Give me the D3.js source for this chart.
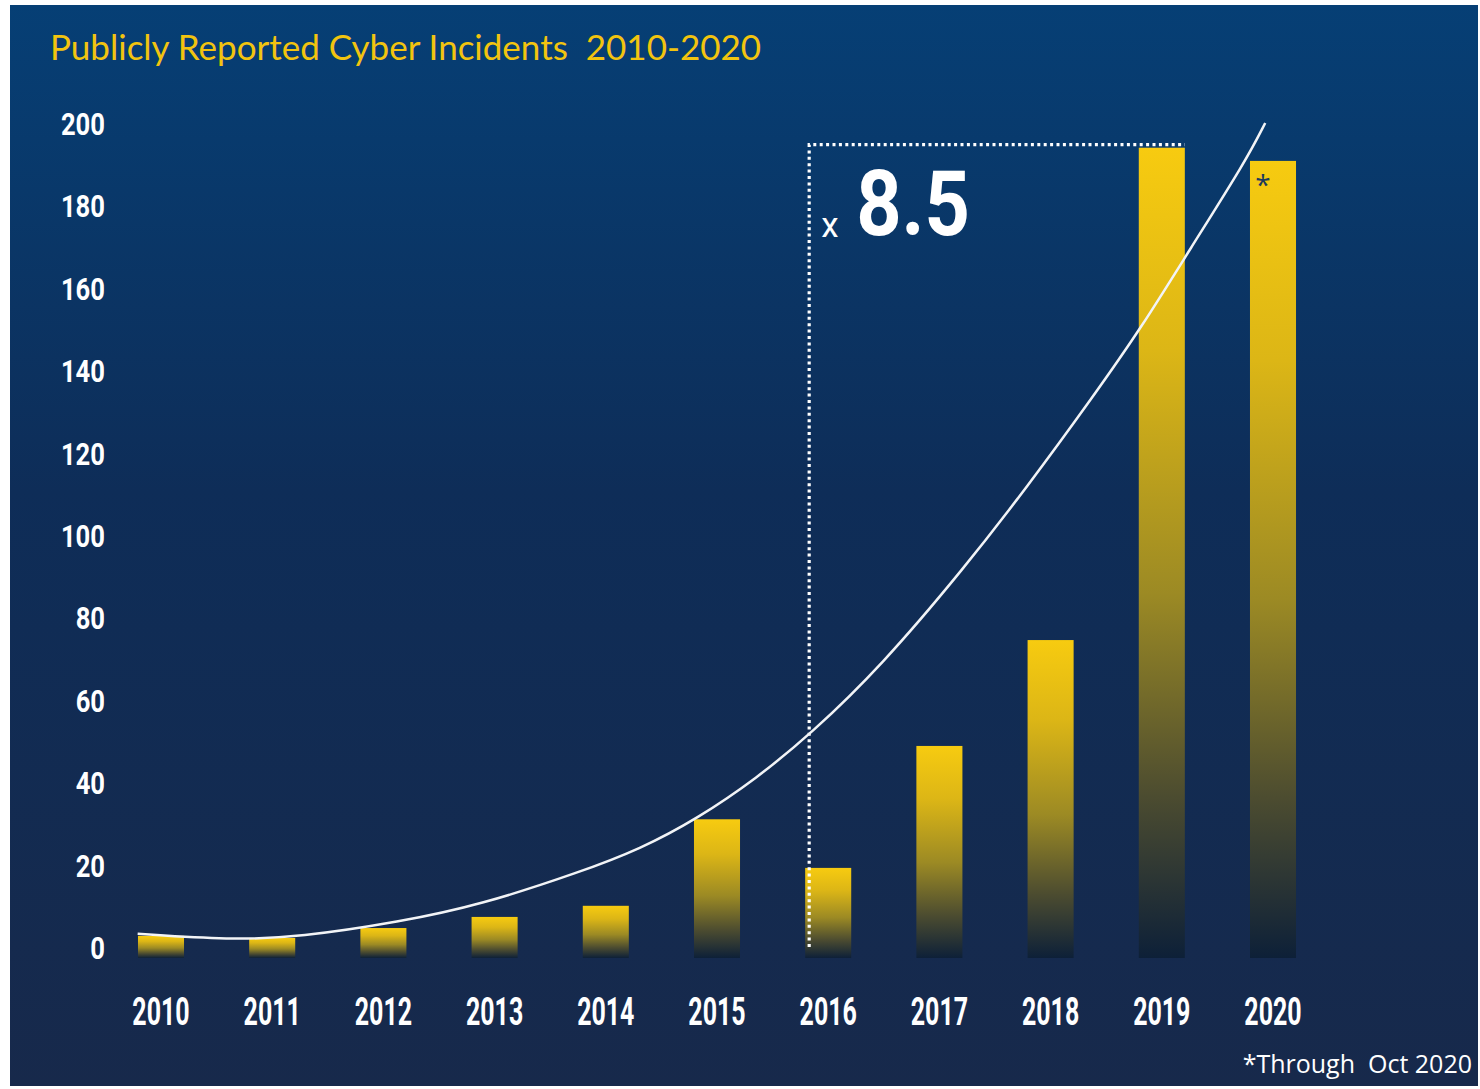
<!DOCTYPE html>
<meta charset="utf-8">
<style>
body { margin: 0; background: #fff; }
.num { font-family: "Roboto", "DejaVu Sans", sans-serif; font-weight: bold; fill: #fff; }
.title { font-family: "Lato", "Open Sans", sans-serif; fill: #f2c40f; white-space: pre; }
.note { font-family: "Open Sans", "Lato", sans-serif; fill: #fff; white-space: pre; }
</style>
<svg width="1480" height="1089"></svg>
<script src="https://d3js.org/d3.v7.min.js"></script>
<script>

var years = [2010, 2011, 2012, 2013, 2014, 2015, 2016, 2017, 2018, 2019, 2020];
var incidents = [2.7, 2.2, 4.6, 7.3, 10.0, 31.0, 19.2, 48.8, 74.5, 194, 190.8];
var yTicks = [0, 20, 40, 60, 80, 100, 120, 140, 160, 180, 200];

// trend line (fractional year, value)
var trendX = [2009.79, 2010.62, 2011.25, 2012.15, 2012.87, 2013.77, 2014.31, 2014.82, 2015.36, 2015.85,
              2016.47, 2017.23, 2017.79, 2018.38, 2018.82, 2019.25, 2019.76, 2019.93];
var trendY = [3.2, 1.7, 2.4, 6.1, 10.2, 18.2, 23.8, 31.1, 41.0, 51.9,
              68.0, 92.2, 111.7, 133.5, 150.5, 169.2, 191.0, 200];

var titleText = "Publicly Reported Cyber Incidents  2010-2020";
var footnote = "*Through  Oct 2020";
var growth = "8.5";

var svg = d3.select("svg"),
    width = +svg.attr("width"),
    height = +svg.attr("height");

var defs = svg.append("defs");

var bg = defs.append("linearGradient")
    .attr("id", "bg").attr("x1", 0).attr("y1", 0).attr("x2", 0).attr("y2", 1);
bg.append("stop").attr("offset", 0).attr("stop-color", "#063f75");
bg.append("stop").attr("offset", 0.45).attr("stop-color", "#0e2d58");
bg.append("stop").attr("offset", 1).attr("stop-color", "#17294b");

var barGrad = defs.append("linearGradient")
    .attr("id", "bar").attr("x1", 0).attr("y1", 0).attr("x2", 0).attr("y2", 1);
barGrad.append("stop").attr("offset", 0).attr("stop-color", "#f7cb10");
barGrad.append("stop").attr("offset", 0.25).attr("stop-color", "#dcb616");
barGrad.append("stop").attr("offset", 0.55).attr("stop-color", "#9c8a24");
barGrad.append("stop").attr("offset", 0.8).attr("stop-color", "#4c4c30");
barGrad.append("stop").attr("offset", 1).attr("stop-color", "#0d2038");

svg.append("rect")
    .attr("x", 10).attr("y", 5)
    .attr("width", width - 12).attr("height", height - 8)
    .attr("fill", "url(#bg)");

var x = d3.scaleBand()
    .domain(years)
    .range([105.4, 1328.6])
    .paddingInner(0.586)
    .paddingOuter(0.293);

var y = d3.scaleLinear()
    .domain([0, 200])
    .range([947, 123]);

var xt = d3.scaleLinear()
    .domain([2010, 2020])
    .range([x(2010) + x.bandwidth() / 2, x(2020) + x.bandwidth() / 2]);

var base = y(0) + 11;

// condensed text helper: a scaled group holding one text
function narrowText(parent, px, py, sx, size, anchor, str) {
  var g = parent.append("g")
      .attr("transform", "translate(" + px + "," + py + ") scale(" + sx + ",1)");
  return g.append("text")
      .attr("class", "num")
      .attr("text-anchor", anchor)
      .style("font-size", size + "px")
      .text(str);
}

// title
svg.append("text")
    .attr("class", "title")
    .attr("x", 50).attr("y", 60)
    .style("font-size", "35px")
    .text(titleText);

// y axis labels
var yg = svg.append("g");
yTicks.forEach(function(d) {
  narrowText(yg, 105, y(d) + 12, 0.8, 32, "end", d);
});

// bars
svg.append("g")
  .selectAll("rect")
  .data(years)
  .enter().append("rect")
    .attr("x", function(d) { return x(d); })
    .attr("y", function(d, i) { return y(incidents[i]); })
    .attr("width", x.bandwidth())
    .attr("height", function(d, i) { return base - y(incidents[i]); })
    .attr("fill", "url(#bar)");

// x axis labels
var xg = svg.append("g");
years.forEach(function(d) {
  narrowText(xg, x(d) + x.bandwidth() / 2, 1025, 0.64, 39, "middle", d);
});

// asterisk on 2020
svg.append("text")
    .attr("x", x(2020) + x.bandwidth() / 2 - 10)
    .attr("y", y(incidents[10]) + 34)
    .attr("text-anchor", "middle")
    .attr("fill", "#1d3a5c")
    .style("font-family", "Open Sans, sans-serif")
    .style("font-size", "28px")
    .text("*");

// dotted bracket from 2016 to 2019
var i19 = years.indexOf(2019);
var bx = x(2016) + 4, by = y(incidents[i19]) - 3;
svg.append("path")
    .attr("d", "M" + bx + "," + y(0) + "V" + by + "H" + (x(2019) + x.bandwidth()))
    .attr("fill", "none")
    .attr("stroke", "#fff")
    .attr("stroke-width", 3.2)
    .attr("stroke-dasharray", "3 3.4");

svg.append("text")
    .attr("class", "num")
    .attr("x", bx + 12).attr("y", 237)
    .style("font-weight", "normal")
    .style("font-size", "35px")
    .text("x");

narrowText(svg, bx + 47, 235, 0.88, 90, "start", growth);

// trend curve
var line = d3.line()
    .x(function(d) { return xt(d[0]); })
    .y(function(d) { return y(d[1]); })
    .curve(d3.curveBasis);

svg.append("path")
    .datum(d3.zip(trendX, trendY))
    .attr("d", line)
    .attr("fill", "none")
    .attr("stroke", "#f2f4f7")
    .attr("stroke-width", 2.5);

// footnote
svg.append("text")
    .attr("class", "note")
    .attr("x", 1472).attr("y", 1073)
    .attr("text-anchor", "end")
    .style("font-size", "25px")
    .text(footnote);

</script>
